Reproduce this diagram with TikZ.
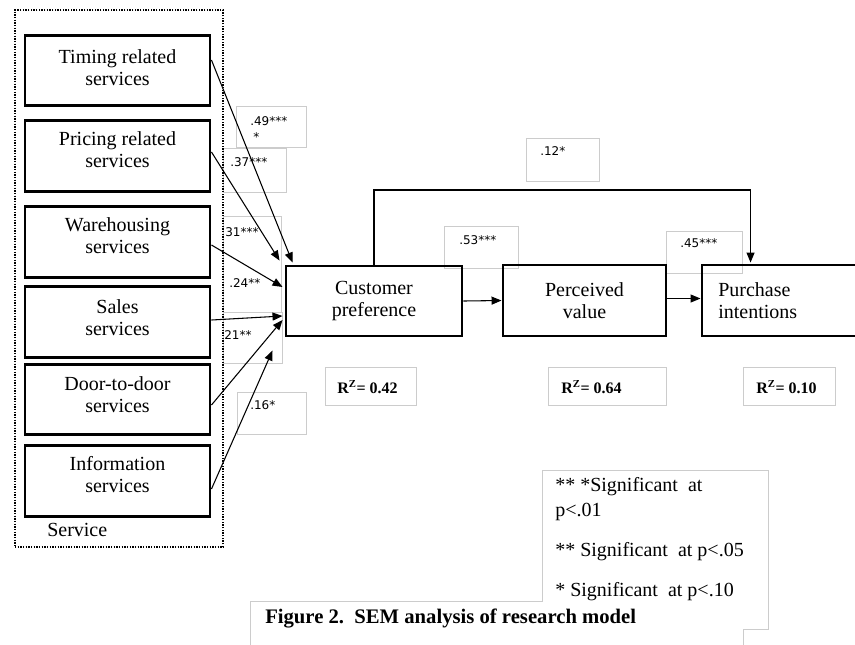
\documentclass[tikz,border=0pt]{standalone}
\usepackage{fontspec}
\setmainfont{Liberation Serif}
\newfontfamily\coeffont{DejaVu Sans}
\usetikzlibrary{arrows.meta,calc}
\definecolor{lightline}{HTML}{CCCCCC}
\begin{document}
\begin{tikzpicture}[x=0.75pt,y=-0.75pt,
  leftbox/.style={draw, line width=2.2pt, inner sep=0pt, minimum width=138.75pt, minimum height=53pt},
  mainbox/.style={draw, line width=2.2pt, inner sep=0pt},
  gbox/.style={draw=lightline, line width=0.6pt, inner sep=0pt},
  dotbox/.style={draw, line width=1.4pt, dash pattern=on 1.1pt off 0.9pt, inner sep=0pt},
  boxtext/.style={font=\fontsize{15}{16.5}\selectfont, align=center, inner sep=0pt},
  coef/.style={font=\coeffont\fontsize{9}{10}\selectfont, inner sep=0pt, anchor=west},
  rtext/.style={font=\bfseries\fontsize{12}{14}\selectfont, inner sep=0pt, anchor=west},
  legtext/.style={font=\fontsize{15}{16.5}\selectfont, inner sep=0pt, anchor=west},
  captext/.style={font=\bfseries\fontsize{15.5}{17}\selectfont, inner sep=0pt, anchor=west},
  arr/.style={-{Triangle[length=7.5pt,width=6pt]}, line width=0.8pt}
]
\useasboundingbox (0,0) rectangle (855,644);

% legend / caption outline
\draw[draw=lightline, line width=0.7pt] (250,650) -- (250,601) -- (542,601) -- (542,470) -- (768,470) -- (768,629) -- (743,629) -- (743,650);

% coefficient label boxes
\node[gbox, minimum width=52.5pt, minimum height=30.75pt] (l49) at (271,126.5) {};
\node[gbox, minimum width=47.25pt, minimum height=33pt] (l37) at (254.5,170) {};
\node[gbox, minimum width=43.5pt, minimum height=72pt] (l31) at (252,264) {};
\node[gbox, minimum width=44.25pt, minimum height=38.25pt] (l21) at (252.5,337.5) {};
\node[gbox, minimum width=51.75pt, minimum height=31.5pt] (l16) at (271.5,413) {};
\node[gbox, minimum width=54.75pt, minimum height=32.25pt] (l12) at (562.5,159.5) {};
\node[gbox, minimum width=55.5pt, minimum height=31.5pt] (l53) at (481,247) {};
\node[gbox, minimum width=57pt, minimum height=31.5pt] (l45) at (704,252) {};

% R^2 boxes
\node[gbox, minimum width=68.25pt, minimum height=28.5pt] (r1) at (370.5,386) {};
\node[gbox, minimum width=88.5pt, minimum height=28.5pt] (r2) at (607,386) {};
\node[gbox, minimum width=69pt, minimum height=28.5pt] (r3) at (789,386) {};

% dotted service group
\node[dotbox, minimum width=156pt, minimum height=402.75pt] (grp) at (119,278.5) {};

% left boxes
\node[leftbox] (b1) at (117.5,70.5) {};
\node[leftbox] (b2) at (117.5,156) {};
\node[leftbox] (b3) at (117.5,242) {};
\node[leftbox] (b4) at (117.5,322) {};
\node[leftbox] (b5) at (117.5,399.5) {};
\node[leftbox] (b6) at (117.5,481) {};
\node[boxtext] (t1) at (117.5,68) {Timing related\\services};
\node[boxtext] (t2) at (117.5,149.5) {Pricing related\\services};
\node[boxtext] (t3) at (117.5,235.5) {Warehousing\\services};
\node[boxtext] (t4) at (117.5,318) {Sales\\services};
\node[boxtext] (t5) at (117.5,394.5) {Door-to-door\\services};
\node[boxtext] (t6) at (117.5,474.5) {Information\\services};
\node[legtext] (svc) at (47,530) {Service};

% main boxes
\node[mainbox, minimum width=132pt, minimum height=52.5pt] (cp) at (374,301) {};
\node[mainbox, minimum width=122.25pt, minimum height=53.25pt] (pv) at (584.5,300.5) {};
\node[mainbox, minimum width=117pt, minimum height=53.25pt] (pi) at (780,300.5) {};
\node[boxtext] (cpt) at (cp.center) {Customer\\preference};
\node[boxtext] (pvt) at (pv.center) {Perceived\\value};
\node[boxtext, align=left, anchor=west] (pit) at (718,300.5) {Purchase\\intentions};

% coefficient texts
\node[coef] (c49) at (250,121) {.49***};
\node[coef] (c49b) at (253,137) {*};
\node[coef] (c37) at (230,162) {.37***};
\node[coef] (c31) at (225,232) {31***};
\node[coef] (c24) at (229,283) {.24**};
\node[coef] (c21) at (224,335) {21**};
\node[coef] (c16) at (250,405) {.16*};
\node[coef] (c12) at (540,151) {.12*};
\node[coef] (c53) at (459,240) {.53***};
\node[coef] (c45) at (680,243) {.45***};

% R^2 texts
\node[rtext] (rt1) at (337,387) {R\textsuperscript{Z}= 0.42};
\node[rtext] (rt2) at (561,387) {R\textsuperscript{Z}= 0.64};
\node[rtext] (rt3) at (756,387) {R\textsuperscript{Z}= 0.10};

% arrows from services
\draw[arr] ($(b1.east)+(0,-10.5)$) -- ($(cp.north west)+(8,-2)$);
\draw[arr] ($(b2.east)+(0,-4)$) -- ($(cp.north west)+(-5,-4)$);
\draw[arr] ($(b3.east)+(0,3)$) -- ($(cp.west)+(-2,-14)$);
\draw[arr] ($(b4.east)+(0,-2)$) -- ($(cp.west)+(-2,15)$);
\draw[arr] ($(b5.east)+(0,5.5)$) -- ($(cp.west)+(-2,19)$);
\draw[arr] ($(b6.east)+(0,8)$) -- ($(cp.south west)+(-12,13)$);

% main path
\draw[arr] (cp.east) -- (pv.west);
\draw[arr] ($(pv.east)+(0,-2)$) -- ($(pi.west)+(0,-2)$);
\coordinate (topline) at (0,190);
\coordinate (pin) at ($(pi.north west)+(50,-1)$);
\draw[arr] (cp.north) -- (cp.north |- topline) -| (pin);

% legend and caption
\node[legtext] (lg1) at (555,487) {** *Significant\enspace at};
\node[legtext] (lg2) at (555,512) {p<.01};
\node[legtext] (lg3) at (555,552) {** Significant\enspace at p<.05};
\node[legtext] (lg4) at (555,592) {* Significant\enspace at p<.10};
\node[captext] (cap) at (265,618) {Figure 2.\enspace SEM analysis of research model};
\end{tikzpicture}
\end{document}
